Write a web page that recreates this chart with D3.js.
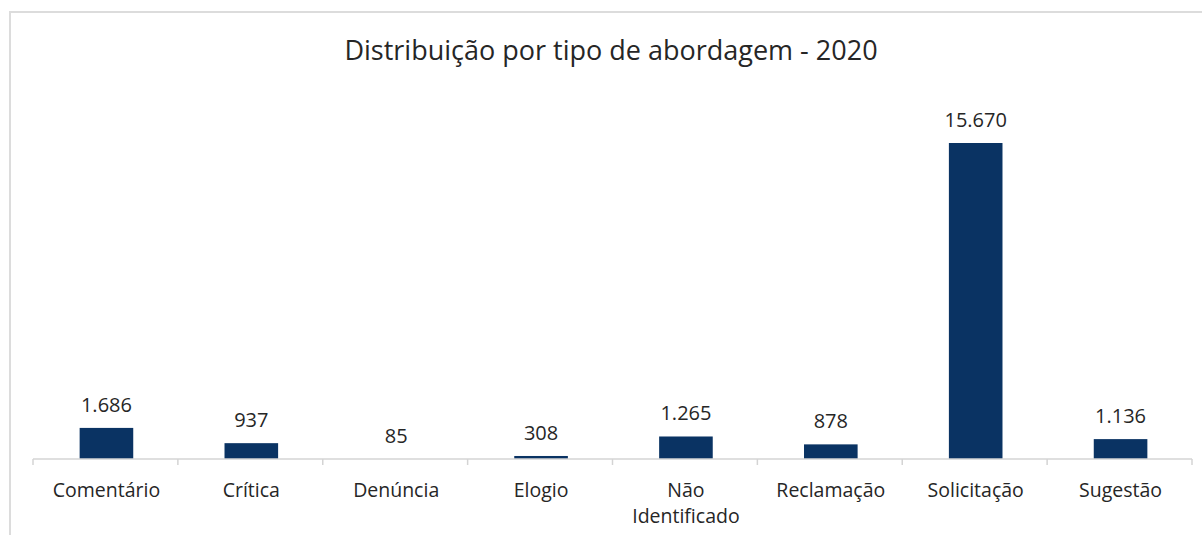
<!DOCTYPE html>
<html>
<head>
<meta charset="utf-8">
<script src="https://cdn.jsdelivr.net/npm/d3@7"></script>
<style>
  body { margin: 0; background: #fff; }
  svg text { font-family: "Open Sans", "DejaVu Sans", sans-serif; fill: #262626; }
</style>
</head>
<body>
<div id="chart"></div>
<script>
// data
var titleText = "Distribuição por tipo de abordagem - 2020";
var categories = ["Comentário", "Crítica", "Denúncia", "Elogio", "Não Identificado", "Reclamação", "Solicitação", "Sugestão"];
var values = [1686, 937, 85, 308, 1265, 878, 15670, 1136];
var valueLabels = ["1.686", "937", "85", "308", "1.265", "878", "15.670", "1.136"];

var W = 1202, H = 535;
var plotLeft = 33, plotRight = 1192, baseline = 459, plotTop = 143;

var svg = d3.select("#chart").append("svg")
    .attr("width", W)
    .attr("height", H);

// chart frame (only top and left edges show in the picture)
svg.append("rect")
    .attr("x", 10).attr("y", 12)
    .attr("width", W + 20).attr("height", H + 20)
    .attr("fill", "#fff")
    .attr("stroke", "#dcdcdc")
    .attr("stroke-width", 2);

svg.append("text")
    .attr("x", 611).attr("y", 60)
    .attr("text-anchor", "middle")
    .style("font-size", "27px")
    .text(titleText);

var xScale = d3.scaleBand()
    .domain(categories)
    .range([plotLeft, plotRight])
    .padding(0);

var yScale = d3.scaleLinear()
    .domain([160, d3.max(values)])
    .range([baseline, plotTop])
    .clamp(true);

var barW = xScale.bandwidth() * 0.37;

svg.selectAll("rect.bar")
    .data(values)
    .enter().append("rect")
    .attr("class", "bar")
    .attr("x", function(d, i) { return xScale(categories[i]) + xScale.bandwidth() / 2 - barW / 2 + 1; })
    .attr("y", function(d) { return yScale(d); })
    .attr("width", barW)
    .attr("height", function(d) { return baseline - yScale(d); })
    .attr("fill", "#0a3363");

svg.selectAll("text.val")
    .data(values)
    .enter().append("text")
    .attr("class", "val")
    .attr("x", function(d, i) { return xScale(categories[i]) + xScale.bandwidth() / 2 + 1; })
    .attr("y", function(d) { return yScale(d) - 16; })
    .attr("text-anchor", "middle")
    .style("font-size", "20px")
    .text(function(d, i) { return valueLabels[i]; });

// x axis: line + ticks at band edges
var axis = svg.append("g");
axis.append("line")
    .attr("x1", plotLeft).attr("x2", plotRight)
    .attr("y1", baseline).attr("y2", baseline)
    .attr("stroke", "#d4d4d4").attr("stroke-width", 1.5);
var edges = categories.map(function(c) { return xScale(c); }).concat([plotRight]);
axis.selectAll("line.tick")
    .data(edges)
    .enter().append("line")
    .attr("class", "tick")
    .attr("x1", function(d) { return d; }).attr("x2", function(d) { return d; })
    .attr("y1", baseline).attr("y2", baseline + 6)
    .attr("stroke", "#d4d4d4").attr("stroke-width", 1.5);

// category labels, "Não Identificado" wraps onto two lines
var labs = axis.selectAll("text.cat")
    .data(categories)
    .enter().append("text")
    .attr("class", "cat")
    .attr("x", function(d) { return xScale(d) + xScale.bandwidth() / 2 + 1; })
    .attr("y", 497)
    .attr("text-anchor", "middle")
    .style("font-size", "19.5px");
labs.each(function(d) {
    var words = d == "Não Identificado" ? ["Não", "Identificado"] : [d];
    var t = d3.select(this);
    words.forEach(function(w, j) {
        t.append("tspan")
            .attr("x", t.attr("x"))
            .attr("dy", j == 0 ? 0 : 26)
            .text(w);
    });
});
</script>
</body>
</html>
